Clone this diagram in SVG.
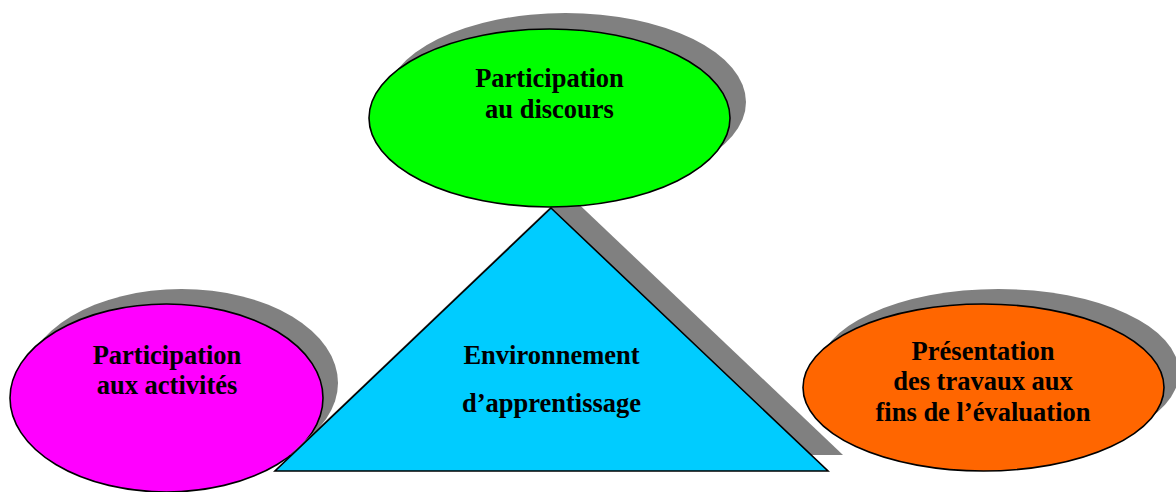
<svg xmlns="http://www.w3.org/2000/svg" width="1176" height="492" viewBox="0 0 1176 492">
<style>
.sh{fill:#808080;stroke:none}
.shape{stroke:#000;stroke-width:1.6}
.t{font-family:"Liberation Serif","Times New Roman",serif;font-weight:bold;font-size:26.5px;fill:#000;text-anchor:middle}
</style>
<rect width="1176" height="492" fill="#fff"/>
<g id="node-activites">
<ellipse class="sh" cx="181.5" cy="383" rx="156.5" ry="94"/>
<ellipse class="shape" cx="166.5" cy="398" rx="156.5" ry="94" fill="#FF00FF"/>
<text class="t" x="167" y="364">Participation</text>
<text class="t" x="167" y="394">aux activités</text>
</g>
<g id="node-environnement">
<polygon class="sh" points="566,192 290,455 843,455"/>
<polygon class="shape" points="551,208 275,471 828,471" fill="#00CCFF" stroke-width="2"/>
<text class="t" x="551.5" y="364">Environnement</text>
<text class="t" x="551.5" y="412">d’apprentissage</text>
</g>
<g id="node-discours">
<ellipse class="sh" cx="565.5" cy="102" rx="180.5" ry="89"/>
<ellipse class="shape" cx="549.5" cy="118" rx="180.5" ry="89" fill="#00FF00"/>
<text class="t" x="549.5" y="87">Participation</text>
<text class="t" x="549.5" y="118">au discours</text>
</g>
<g id="node-presentation">
<ellipse class="sh" cx="998.5" cy="372.5" rx="180.5" ry="83.5"/>
<ellipse class="shape" cx="983.5" cy="387.5" rx="180.5" ry="83.5" fill="#FF6600"/>
<text class="t" x="983" y="360">Présentation</text>
<text class="t" x="983" y="390">des travaux aux</text>
<text class="t" x="983" y="421">fins de l’évaluation</text>
</g>
<g id="connectors"></g>
</svg>
